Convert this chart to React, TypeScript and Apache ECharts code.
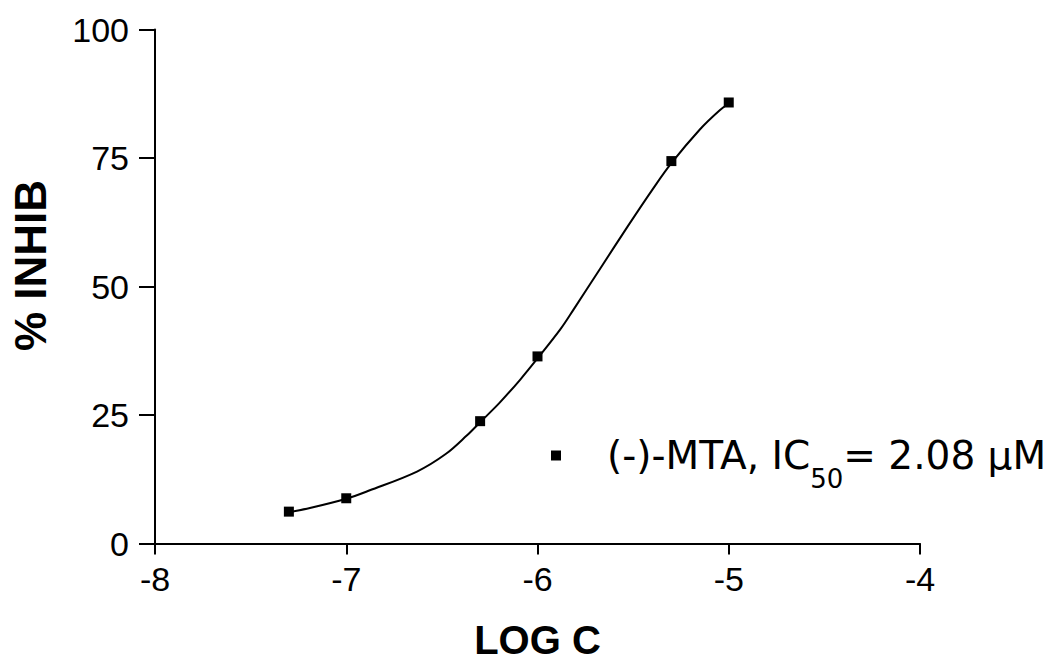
import React, { useEffect, useRef } from 'react';
import * as echarts from 'echarts';

// Axis ticks
const xTicks = [-8, -7, -6, -5, -4];
const yTicks = [0, 25, 50, 75, 100];

// Measured points (log concentration vs % inhibition)
const pointLogC = [-7.3, -7.0, -6.3, -6.0, -5.3, -5.0];
const pointInhib = [6.2, 8.8, 23.8, 36.4, 74.4, 85.8];

// Fitted curve
const curveLogC = [-7.3, -7.19, -7.0, -6.88, -6.63, -6.48, -6.37, -6.3, -6.2, -6.09, -6.0, -5.88, -5.81, -5.67, -5.53, -5.4, -5.3, -5.15, -5.05, -5.0];
const curveInhib = [6.1, 6.9, 8.7, 10.3, 14.0, 17.4, 21.0, 23.6, 27.3, 31.9, 36.0, 41.7, 45.6, 53.6, 61.6, 68.8, 74.0, 80.6, 84.2, 85.6];

const seriesName = '(-)-MTA';
const legendMain = '(-)-MTA, IC';
const legendSub = '50';
const legendTail = '= 2.08 μM';
const xTitle = 'LOG C';
const yTitle = '% INHIB';

const FONT = 'Liberation Sans, Arial, sans-serif';

export default function App() {
  const ref = useRef<HTMLDivElement>(null);
  useEffect(() => {
    const chart = echarts.init(ref.current as HTMLDivElement, null, { renderer: 'svg' });
    const points = pointLogC.map((x, i) => [x, pointInhib[i]]);
    const curve = curveLogC.map((x, i) => [x, curveInhib[i]]);
    chart.setOption({
      animation: false,
      backgroundColor: '#ffffff',
      grid: { left: 155, right: 133, top: 29.5, bottom: 118.5, containLabel: false, outerBoundsMode: 'none' },
      xAxis: {
        type: 'value',
        min: xTicks[0],
        max: xTicks[xTicks.length - 1],
        interval: xTicks[1] - xTicks[0],
        name: xTitle,
        nameLocation: 'middle',
        nameGap: 76,
        nameTextStyle: { fontFamily: FONT, fontWeight: 'bold', fontSize: 40, lineHeight: 40, color: '#000' },
        axisLine: { show: true, onZero: false, lineStyle: { color: '#000', width: 2 } },
        axisTick: { show: true, length: 11, lineStyle: { color: '#000', width: 2 } },
        axisLabel: { fontFamily: FONT, fontSize: 34, color: '#000', margin: 18 },
        splitLine: { show: false },
      },
      yAxis: {
        type: 'value',
        min: yTicks[0],
        max: yTicks[yTicks.length - 1],
        interval: yTicks[1] - yTicks[0],
        name: yTitle,
        nameLocation: 'middle',
        nameRotate: 90,
        nameGap: 103,
        nameTextStyle: { fontFamily: FONT, fontWeight: 'bold', fontSize: 44, color: '#000', padding: [0, 0, 0, 42] },
        axisLine: { show: true, onZero: false, lineStyle: { color: '#000', width: 2 } },
        axisTick: { show: true, length: 16, lineStyle: { color: '#000', width: 2 } },
        axisLabel: { fontFamily: FONT, fontSize: 34, color: '#000', margin: 26 },
        splitLine: { show: false },
      },
      legend: {
        left: 551,
        top: 422,
        padding: 0,
        itemWidth: 92,
        itemHeight: 10,
        selectedMode: false,
        data: [{ name: seriesName, icon: 'path://M0,0H10V10H0Z', itemStyle: { color: '#000', opacity: 1 } }],
        formatter: () => `{m|${legendMain}}{s|${legendSub}}{m|${legendTail}}`,
        textStyle: {
          rich: {
            m: { fontFamily: 'DejaVu Sans', fontSize: 39, lineHeight: 40, color: '#000' },
            s: { fontFamily: 'DejaVu Sans', fontSize: 26, height: 20, lineHeight: 20, color: '#000', padding: [47, 0, 0, 0] },
          },
        },
      },
      series: [
        {
          name: 'fit',
          type: 'line',
          data: curve,
          showSymbol: false,
          symbol: 'none',
          smooth: 0.35,
          lineStyle: { color: '#000', width: 2 },
          silent: true,
        },
        {
          name: seriesName,
          type: 'scatter',
          data: points,
          symbol: 'rect',
          symbolSize: 10,
          itemStyle: { color: '#000', opacity: 1 },
        },
      ],
    });
    return () => chart.dispose();
  }, []);
  return (
    <div
      ref={ref}
      style={{ position: 'fixed', left: 0, top: 0, width: 1053, height: 662, background: '#fff' }}
    />
  );
}
